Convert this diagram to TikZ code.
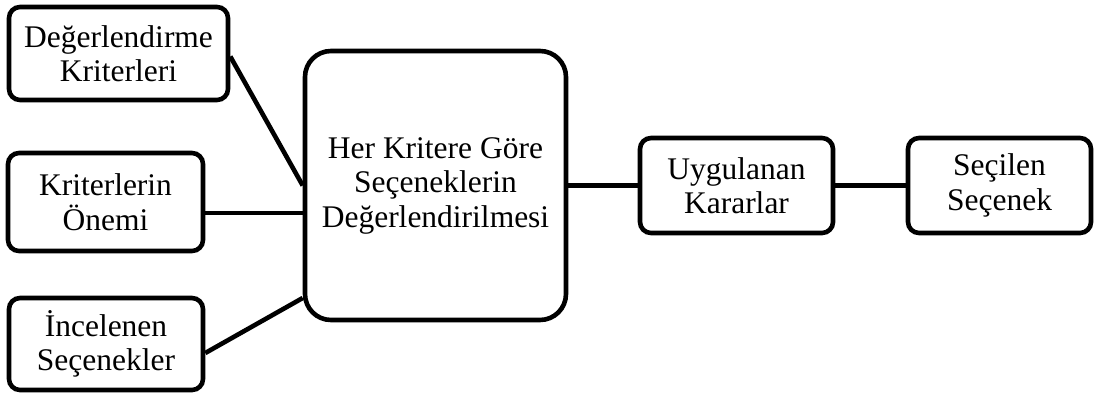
\documentclass[tikz,border=0pt]{standalone}
\usepackage{fontspec}
\setmainfont{Liberation Serif}
\usetikzlibrary{calc}
\tikzset{
  box/.style={draw, line width=4.6pt, rounded corners=11pt, align=center,
    inner sep=0pt, font=\fontsize{31.5}{34.5}\selectfont},
  bigbox/.style={box, rounded corners=26pt},
  link/.style={line width=4.6pt}
}
\begin{document}
\begin{tikzpicture}[x=1pt,y=-1pt]
\useasboundingbox (0,0) rectangle (1094,396);
% input boxes on the left
\node[box, minimum width=219pt, minimum height=93pt] (b1) at (118.5,53.5) {Değerlendirme\\Kriterleri};
\node[box, minimum width=195pt, minimum height=98pt] (b2) at (105.5,202) {Kriterlerin\\Önemi};
\node[box, minimum width=194pt, minimum height=92pt] (b3) at (106,344) {İncelenen\\Seçenekler};
% central evaluation box
\node[bigbox, minimum width=261pt, minimum height=269pt] (c) at (435.5,185.5) {Her Kritere Göre\\Seçeneklerin\\Değerlendirilmesi};
% outputs on the right
\node[box, minimum width=193pt, minimum height=95pt] (u) at (736.5,185.5) {Uygulanan\\Kararlar};
\node[box, minimum width=183pt, minimum height=95pt] (s) at (999.5,185.5) {Seçilen\\Seçenek};
% connectors
\draw[link] ($(b1.east)+(0,3)$) -- (c.west);
\draw[link] ($(b2.east)+(0,11)$) coordinate (p2) -- (p2 -| c.west);
\draw[link] ($(b3.east)+(0,9)$) -- ($(c.west)+(0,112.5)$);
\draw[link] (c.east) -- (u.west);
\draw[link] (u.east) -- (s.west);
\end{tikzpicture}
\end{document}
